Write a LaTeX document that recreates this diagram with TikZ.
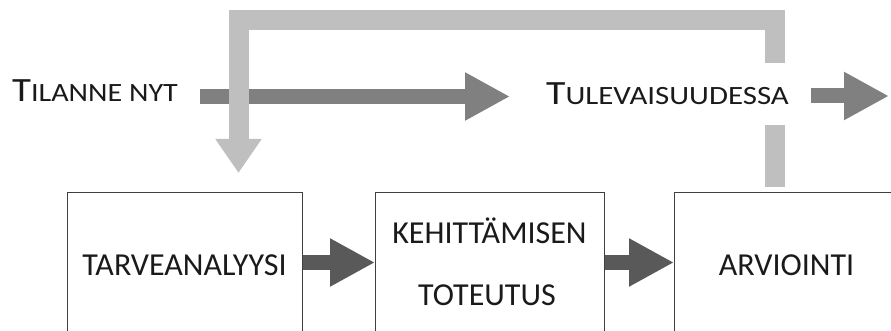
\documentclass[tikz,border=0pt]{standalone}
\usepackage{fontspec}
\usepackage{graphicx}
\setmainfont{Carlito}
\usetikzlibrary{arrows.meta}
\definecolor{boxc}{HTML}{404040}
\definecolor{txtc}{HTML}{1A1A1A}
\definecolor{arrA}{HTML}{808080}
\definecolor{arrB}{HTML}{595959}
\definecolor{loopc}{HTML}{BFBFBF}
\newcommand\fsc[3]{\scalebox{#1}[1]{{\fontsize{34}{40}\selectfont #2}{\fontsize{26.4}{32}\selectfont #3}}}
\begin{document}
\begin{tikzpicture}[x=1pt,y=-1pt,
  boxst/.style={draw=boxc, line width=1.3pt, fill=white, rectangle, anchor=north west, inner sep=0pt},
  lbl/.style={text=txtc, inner sep=0pt, font=\fontsize{32}{38}\selectfont},
  toparrow/.style={draw=arrA, line width=15pt, -{Triangle[width=45pt,length=45pt]}},
  boxarrow/.style={draw=arrB, line width=15pt, -{Triangle[width=45pt,length=45pt]}},
  loopline/.style={draw=loopc, line width=20pt, line join=miter},
  looparrow/.style={draw=loopc, line width=20pt, line join=miter, -{Triangle[width=44pt,length=34pt]}}
]
\useasboundingbox (0,0) rectangle (891,331);
\clip (0,0) rectangle (891,331);
% boxes
\node[boxst, minimum width=235pt, minimum height=160pt] (b1) at (67,192) {};
\node[boxst, minimum width=229pt, minimum height=160pt] (b2) at (375,192) {};
\node[boxst, minimum width=226pt, minimum height=160pt] (b3) at (674,192) {};
% box labels
\node[lbl, anchor=base] (t1) at (184.5,275) {TARVEANALYYSI};
\node[lbl, anchor=base] (t2a) at (489.5,243) {KEHITTÄMISEN};
\node[lbl, anchor=base] (t2b) at (487,305) {TOTEUTUS};
\node[lbl, anchor=base] (t3) at (786.5,275) {ARVIOINTI};
% top labels
\node[lbl, anchor=base west] (til) at (12,102) {\fsc{1.14}{T}{ILANNE NYT}};
\node[lbl, anchor=base west] (tul) at (546,105) {\fsc{1.17}{T}{ULEVAISUUDESSA}};
% arrows between boxes
\coordinate (row) at (0,262.5);
\draw[boxarrow] (b1.north east |- row) -- (b2.north west |- row);
\draw[boxarrow] (b2.north east |- row) -- (b3.north west |- row);
% top dark arrows
\coordinate (a1s) at (200,96.5);
\coordinate (a1e) at (510,96.5);
\coordinate (a2s) at (811,96);
\coordinate (a2e) at (889,96);
\draw[toparrow] (a1s) -- (a1e);
\draw[toparrow] (a2s) -- (a2e);
% light feedback loop
\coordinate (lpA) at (775,187);
\coordinate (lpB) at (775,125);
\coordinate (lpC) at (775,63);
\coordinate (lpD) at (775,20.5);
\coordinate (lpE) at (238.5,20.5);
\coordinate (lpF) at (238.5,173);
\draw[loopline] (lpA) -- (lpB);
\draw[looparrow] (lpC) -- (lpD) -- (lpE) -- (lpF);
\end{tikzpicture}
\end{document}
